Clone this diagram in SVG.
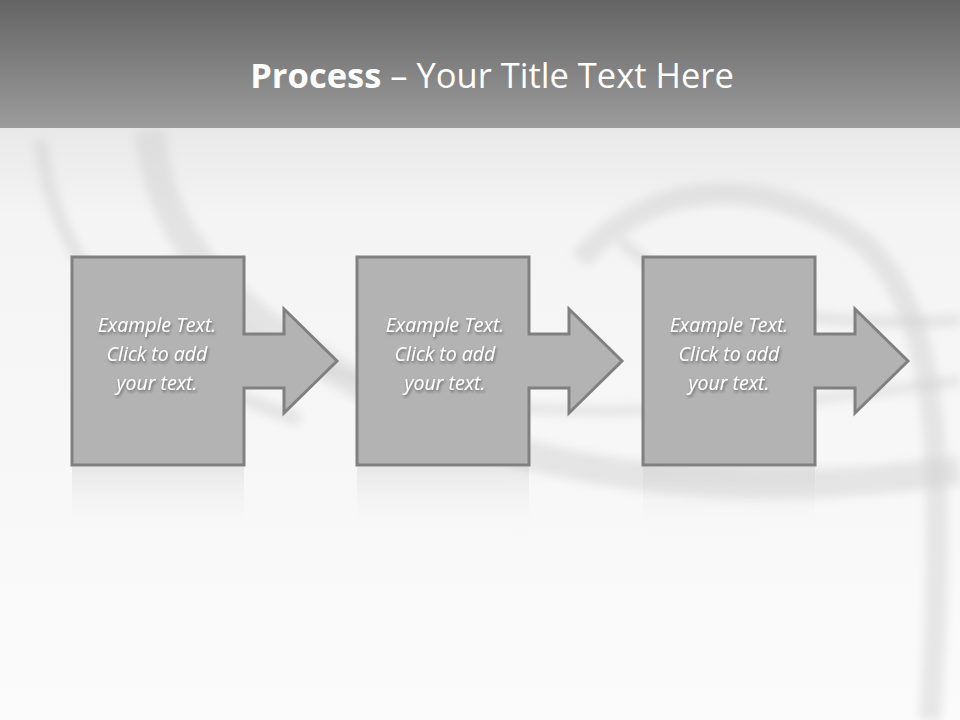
<svg xmlns="http://www.w3.org/2000/svg" width="960" height="720" viewBox="0 0 960 720">
<defs>
<linearGradient id="hdr" x1="0" y1="0" x2="0" y2="1"><stop offset="0" stop-color="#646464"/><stop offset="1" stop-color="#9c9c9c"/></linearGradient>
<linearGradient id="bg" x1="0" y1="0" x2="0" y2="1"><stop offset="0" stop-color="#d8d8d8"/><stop offset="0.3" stop-color="#f4f4f4"/><stop offset="1" stop-color="#fbfbfb"/></linearGradient>
<linearGradient id="refl" x1="0" y1="0" x2="0" y2="1"><stop offset="0" stop-color="#c0c0c0" stop-opacity="0.5"/><stop offset="1" stop-color="#ffffff" stop-opacity="0"/></linearGradient>
<filter id="ts"><feDropShadow dx="1" dy="2" stdDeviation="1.5" flood-color="#000" flood-opacity="0.45"/></filter>
<filter id="bl"><feGaussianBlur stdDeviation="5"/></filter>
<path id="shp" d="M0,0 H172 V77 H212 V52 L265,104 L212,156 V131 H172 V208 H0 Z"/>
</defs>
<style>
.s{fill:#b3b3b3;stroke:#808080;stroke-width:3;stroke-linejoin:miter}
.t{font-family:"Open Sans","Liberation Sans",sans-serif;font-style:italic;font-size:19.5px;fill:#fff;text-anchor:middle;filter:url(#ts)}
.sw{fill:none;stroke:#cfcfcf;stroke-opacity:0.45;filter:url(#bl)}
</style>
<rect width="960" height="720" fill="url(#bg)"/>
<g class="sw">
<path d="M150,130 C160,260 260,340 430,420 C560,480 760,500 960,470" stroke-width="30"/>
<path d="M580,260 C650,180 760,170 860,240 C930,300 950,420 930,720" stroke-width="22"/>
<path d="M230,320 C400,440 700,420 960,380" stroke-width="10"/>
<path d="M40,140 C60,300 180,380 300,420" stroke-width="14"/>
<path d="M620,240 C680,300 800,330 960,320" stroke-width="12"/>
</g>
<rect width="960" height="128" fill="url(#hdr)"/>
<text x="492" y="88" text-anchor="middle" font-family="Open Sans,Liberation Sans,sans-serif" font-size="34.5" fill="#fff"><tspan font-weight="bold">Process</tspan> – Your Title Text Here</text>
<g id="refl-all" opacity="0.6">
<rect x="72" y="467" width="172" height="70" fill="url(#refl)"/>
<rect x="357" y="467" width="172" height="70" fill="url(#refl)"/>
<rect x="643" y="467" width="172" height="70" fill="url(#refl)"/>
</g>
<g id="node1" transform="translate(72,257)"><use href="#shp" class="s"/><text class="t" x="85" y="75">Example Text.</text><text class="t" x="85" y="104">Click  to add</text><text class="t" x="85" y="133">your text.</text></g>
<g id="node2" transform="translate(357,257)"><use href="#shp" class="s"/><text class="t" x="88" y="75">Example Text.</text><text class="t" x="88" y="104">Click  to add</text><text class="t" x="88" y="133">your text.</text></g>
<g id="node3" transform="translate(643,257)"><use href="#shp" class="s"/><text class="t" x="86" y="75">Example Text.</text><text class="t" x="86" y="104">Click  to add</text><text class="t" x="86" y="133">your text.</text></g>
<g id="connectors"></g>
</svg>
